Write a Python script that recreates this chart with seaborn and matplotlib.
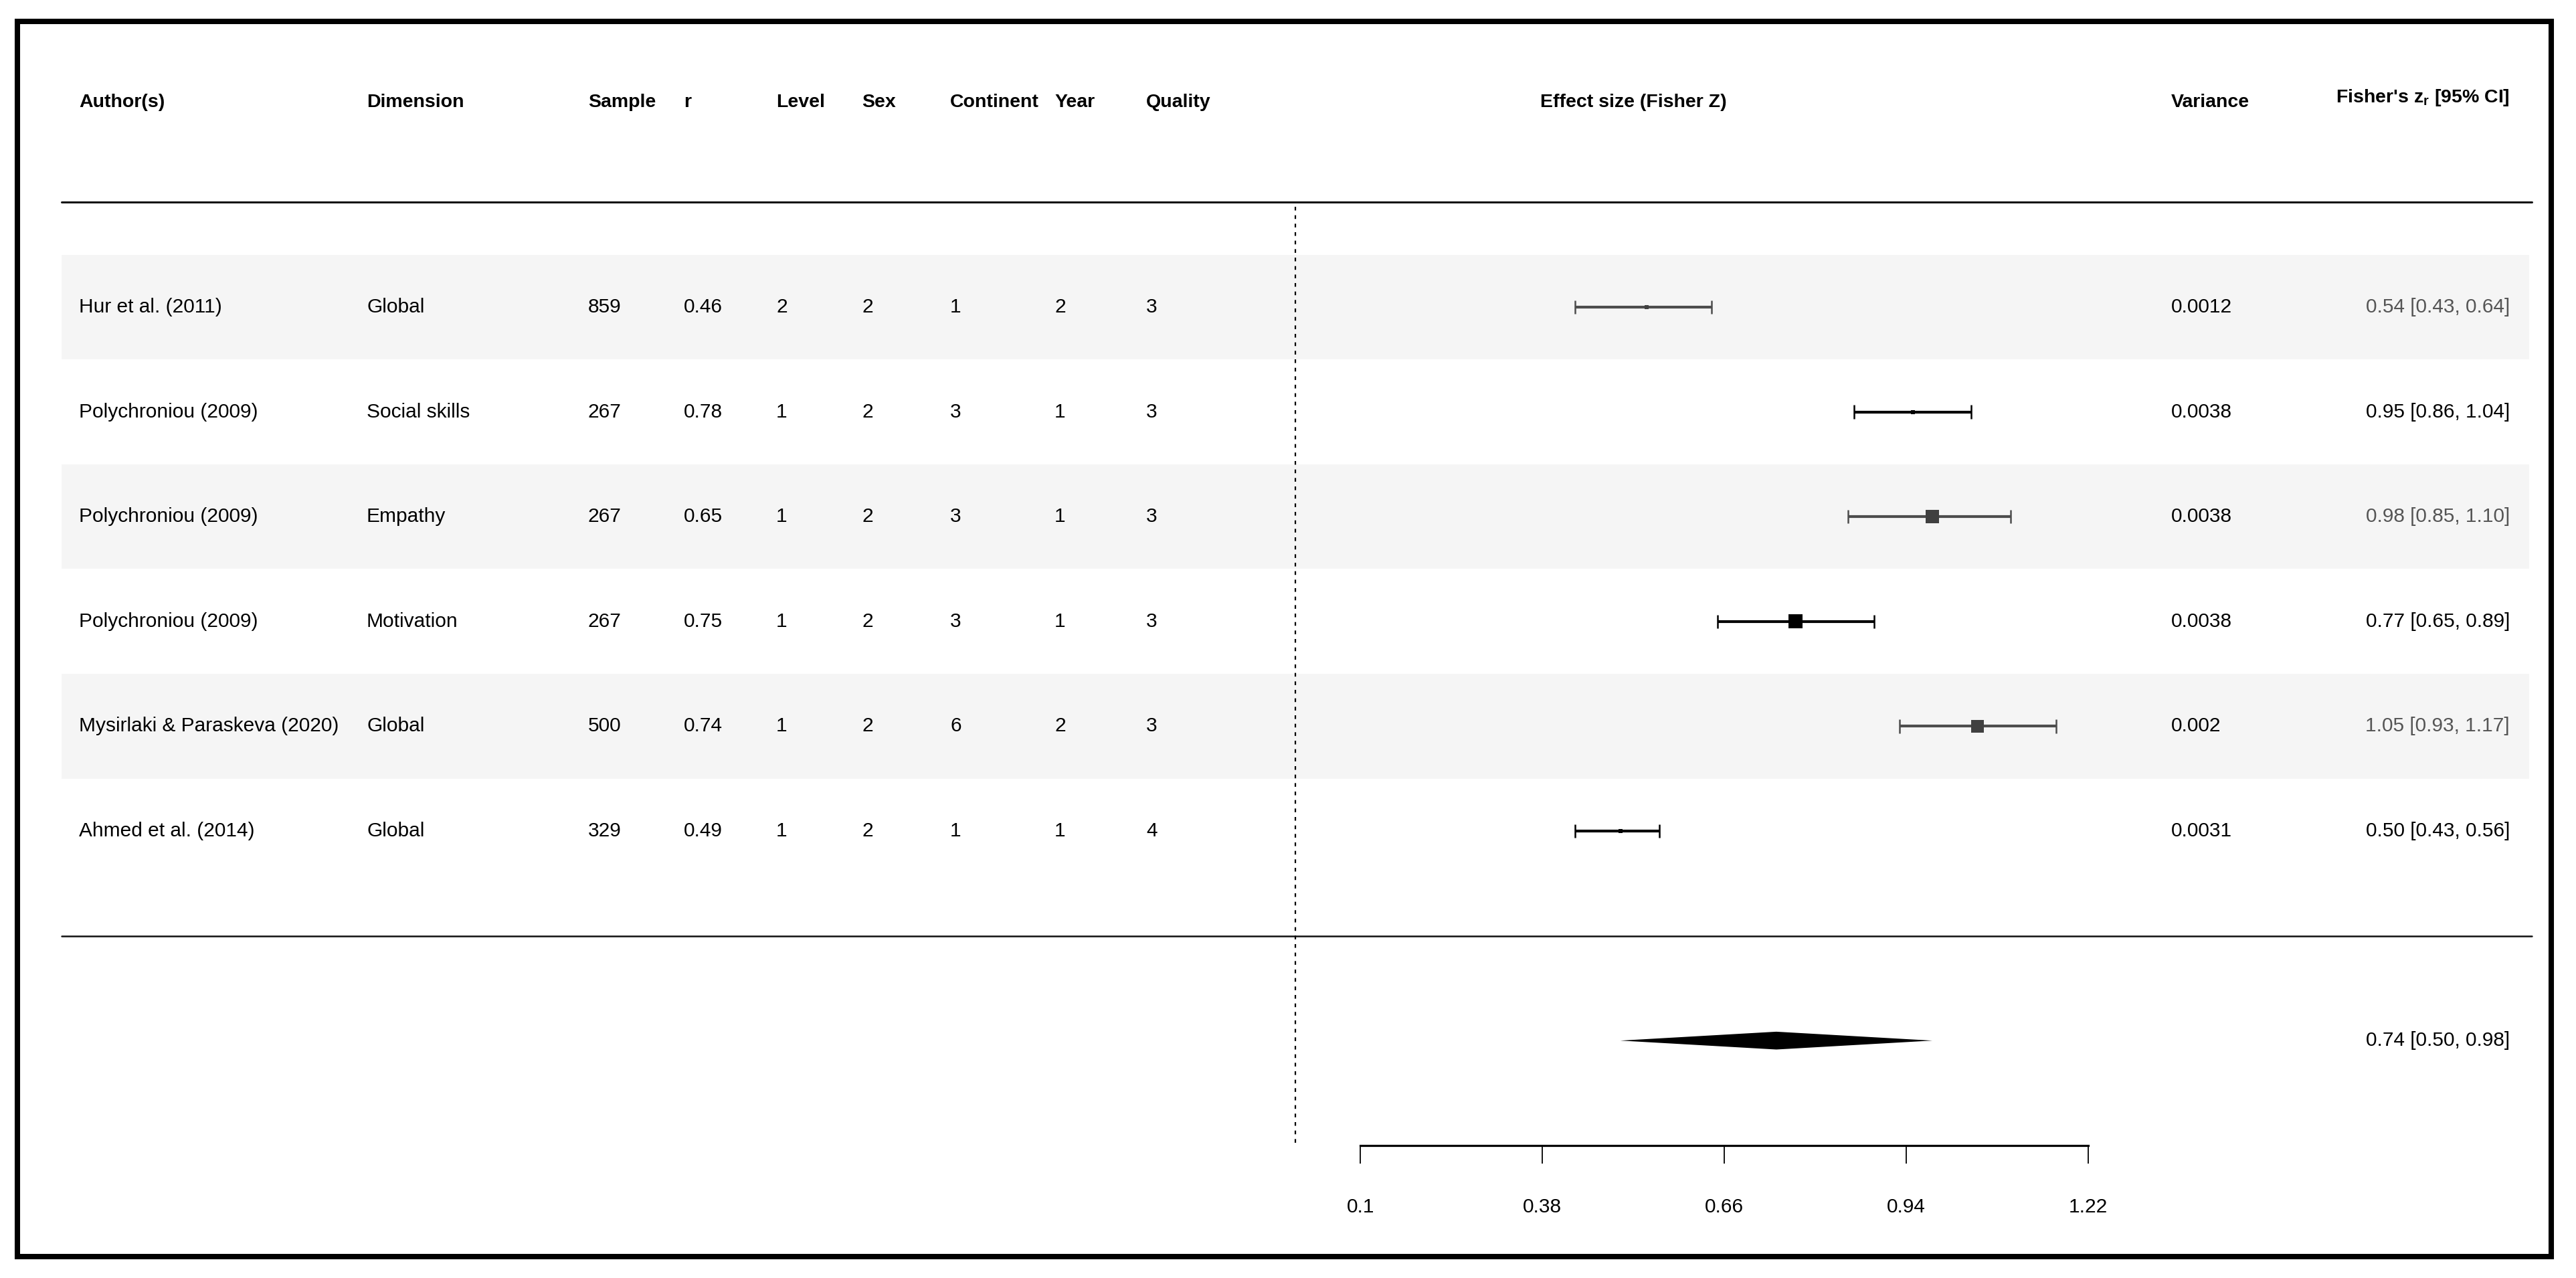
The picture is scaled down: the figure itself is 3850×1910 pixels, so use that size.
import numpy as np
import pandas as pd
import matplotlib
matplotlib.use("Agg")
import matplotlib.pyplot as plt
import matplotlib.transforms as mtransforms
from matplotlib.patches import Rectangle
import seaborn as sns

# study table
authors = ["Hur et al. (2011)", "Polychroniou (2009)", "Polychroniou (2009)",
           "Polychroniou (2009)", "Mysirlaki & Paraskeva (2020)", "Ahmed et al. (2014)"]
dimensions = ["Global", "Social skills", "Empathy", "Motivation", "Global", "Global"]
samples = [859, 267, 267, 267, 500, 329]
r_values = ["0.46", "0.78", "0.65", "0.75", "0.74", "0.49"]
levels = [2, 1, 1, 1, 1, 1]
sexes = [2, 2, 2, 2, 2, 2]
continents = [1, 3, 3, 3, 6, 1]
years = [2, 1, 1, 1, 2, 1]
quality = [3, 3, 3, 3, 3, 4]
variances = ["0.0012", "0.0038", "0.0038", "0.0038", "0.002", "0.0031"]

# Fisher z with 95% CI
effect = [0.54, 0.95, 0.98, 0.77, 1.05, 0.50]
ci_low = [0.43, 0.86, 0.85, 0.65, 0.93, 0.43]
ci_high = [0.64, 1.04, 1.10, 0.89, 1.17, 0.56]
pooled = [0.74, 0.50, 0.98]  # estimate, lower, upper
axis_ticks = [0.1, 0.38, 0.66, 0.94, 1.22]

# marker box side in px (visual weight in the original)
box_px = [6, 6, 20, 21, 19, 6]

# ---- layout (pixels of the 3850 x 1910 canvas) ----
W, H = 3850, 1910
ZERO_PX, PX_PER_UNIT = 1936, 971.4
ROW1_PX, ROW_STEP = 459, 156.6
BODY_FS, HEAD_FS = 21.5, 20.5

sns.set_theme(style="white")
plt.rcParams["font.family"] = ["Liberation Sans", "DejaVu Sans"]
plt.rcParams["mathtext.default"] = "regular"

fig = plt.figure(figsize=(W / 100, H / 100), dpi=100)
ax = fig.add_axes([0, 0, 1, 1])
ax.set_facecolor("none")
ax.set_xlim(-ZERO_PX / PX_PER_UNIT, (W - ZERO_PX) / PX_PER_UNIT)
ax.set_ylim(1 + (H - ROW1_PX) / ROW_STEP, 1 - ROW1_PX / ROW_STEP)

n = len(authors)
rows = np.arange(1, n + 1)
tones = ["#4d4d4d" if i % 2 == 0 else "black" for i in range(n)]
text_tones = ["#555555" if i % 2 == 0 else "black" for i in range(n)]

# shaded bands on alternate rows
for i in rows[::2]:
    ax.axhspan(i - 0.5, i + 0.5, xmin=92 / W, xmax=3780 / W, color="#f5f5f5", lw=0, zorder=0)

# header and footer rules, reference line at 0
ax.axhline(0, xmin=92 / W, xmax=3784 / W, color="#111111", lw=2.2, zorder=2)
ax.axhline(n + 1, xmin=92 / W, xmax=3784 / W, color="#111111", lw=1.8, zorder=2)
ax.vlines(0, 0.04, n + 3, colors="black", linestyles=(0, (2.5, 3.2)), lw=1.6, zorder=2)

# confidence intervals with end caps
cap = 0.065
ax.hlines(rows, ci_low, ci_high, colors=tones, lw=3.0, zorder=3)
ax.vlines(ci_low, rows - cap, rows + cap, colors=tones, lw=1.8, zorder=3)
ax.vlines(ci_high, rows - cap, rows + cap, colors=tones, lw=1.8, zorder=3)

df = pd.DataFrame({"es": effect, "row": rows, "tone": tones,
                   "s": [(p * 0.72) ** 2 for p in box_px]})
sns.scatterplot(data=df, x="es", y="row", hue="tone",
                palette={"#4d4d4d": "#404040", "black": "black"},
                s=df["s"], marker="s", linewidth=0, legend=False, ax=ax, zorder=4)

# pooled estimate diamond
est, lo, hi = pooled
half_h = 0.085
ax.fill([lo, est, hi, est], [n + 2, n + 2 - half_h, n + 2, n + 2 + half_h],
        color="black", lw=0, zorder=4)

# bottom axis
ax.spines[["top", "left", "right"]].set_visible(False)
ax.spines["bottom"].set_position(("data", n + 3))
ax.spines["bottom"].set_bounds(axis_ticks[0], axis_ticks[-1])
ax.spines["bottom"].set_linewidth(2.3)
ax.spines["bottom"].set_color("black")
ax.set_xticks(axis_ticks, labels=[f"{t:g}" for t in axis_ticks])
ax.tick_params(axis="x", direction="out", length=19.4, width=1.3, pad=37,
               labelsize=BODY_FS, colors="black", bottom=True)
ax.set_yticks([])
ax.set_xlabel("")
ax.set_ylabel("")

# table text
tr = mtransforms.blended_transform_factory(ax.transAxes, ax.transData)
col_px = [118, 548, 879, 1022, 1160, 1288, 1420, 1576, 1713]
headers = ["Author(s)", "Dimension", "Sample", "r", "Level", "Sex", "Continent", "Year", "Quality"]
columns = [authors, dimensions, samples, r_values, levels, sexes, continents, years, quality]
head_y = 1 + (160 - ROW1_PX) / ROW_STEP

for x, head, vals in zip(col_px, headers, columns):
    ax.text(x / W, head_y, head, transform=tr, ha="left", va="baseline",
            fontsize=HEAD_FS, fontweight="bold", color="black")
    for i, v in zip(rows, vals):
        ax.text(x / W, i, str(v), transform=tr, ha="left", va="center",
                fontsize=BODY_FS, color="black")

ax.text(2441 / W, head_y, "Effect size (Fisher Z)", transform=tr, ha="center",
        va="baseline", fontsize=HEAD_FS, fontweight="bold", color="black")
ax.text(3245 / W, head_y, "Variance", transform=tr, ha="left", va="baseline",
        fontsize=HEAD_FS, fontweight="bold", color="black")
ax.text(3751 / W, 1 + (153 - ROW1_PX) / ROW_STEP, r"Fisher's z$_r$ [95% CI]",
        transform=tr, ha="right", va="baseline", fontsize=HEAD_FS,
        fontweight="bold", color="black")

for i, var, e, l, h, c in zip(rows, variances, effect, ci_low, ci_high, text_tones):
    ax.text(3245 / W, i, var, transform=tr, ha="left", va="center",
            fontsize=BODY_FS, color="black")
    ax.text(3751 / W, i, f"{e:.2f} [{l:.2f}, {h:.2f}]", transform=tr, ha="right",
            va="center", fontsize=BODY_FS, color=c)

ax.text(3751 / W, n + 2, f"{est:.2f} [{lo:.2f}, {hi:.2f}]", transform=tr, ha="right",
        va="center", fontsize=BODY_FS, color="black")

# outer frame
fig.add_artist(Rectangle((26 / W, 1 - 1878 / H), (3813 - 26) / W, (1878 - 32) / H,
                         transform=fig.transFigure, fill=False, ec="black",
                         lw=5.8, joinstyle="miter"))

fig.savefig("out.png", dpi=100)
plt.close(fig)
